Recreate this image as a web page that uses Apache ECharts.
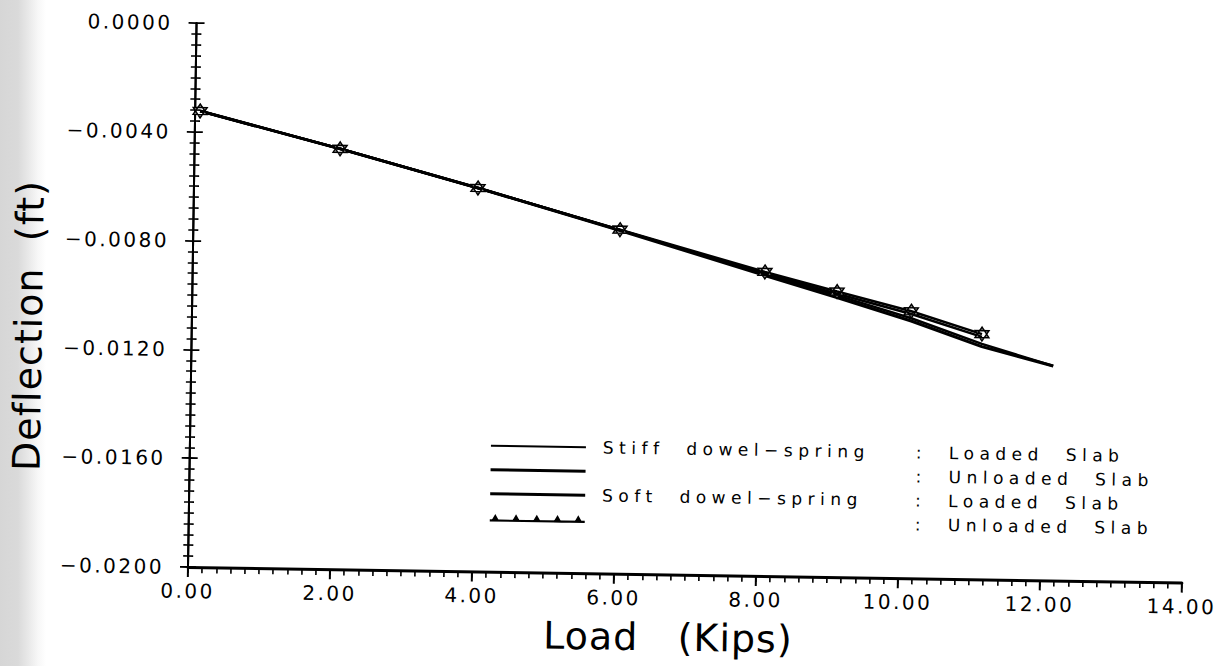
<!DOCTYPE html>
<html>
<head>
<meta charset="utf-8">
<script src="https://cdn.jsdelivr.net/npm/echarts@6/dist/echarts.min.js"></script>
<style>
  html, body { margin: 0; padding: 0; }
  body {
    width: 1215px; height: 666px; overflow: hidden; position: relative;
    background: linear-gradient(to right, #d6d6d6 0px, #dadada 18px, #e8e8e8 28px, #f7f7f7 38px, #ffffff 46px);
  }
  /* the plotted sheet sits slightly askew on the page */
  #chart {
    position: absolute; left: 0; top: 0; width: 1215px; height: 666px;
    transform-origin: 188px 567px; transform: rotate(0.9deg);
  }
</style>
</head>
<body>
<div id="chart"></div>
<script>
// Load steps (kips)
const loads = [0.07, 2.05, 4.00, 6.01, 8.06, 9.08, 10.13, 11.13, 12.14];

// Joint deflection (ft) for each dowel-spring case
const stiffLoaded   = [-0.00323, -0.00454, -0.00590, -0.00737, -0.00888, -0.00964, -0.01044, -0.01134, -0.01211];
const stiffUnloaded = [-0.00323, -0.00454, -0.00590, -0.00736, -0.00888, -0.00958, -0.01028, -0.01108, null];
const softLoaded    = [-0.00323, -0.00454, -0.00590, -0.00738, -0.00895, -0.00972, -0.01054, -0.01144, -0.01211];
const softUnloaded  = [-0.00323, -0.00454, -0.00590, -0.00735, -0.00882, -0.00950, -0.01018, -0.01098, null];

// Axis ranges
const loadMin = 0, loadMax = 14, loadStep = 2, loadMinorStep = 0.2;
const deflMin = -0.02, deflMax = 0, deflStep = 0.004;

const seriesNames = [
  'Stiff dowel-spring, loaded slab',
  'Stiff dowel-spring, unloaded slab',
  'Soft dowel-spring, loaded slab',
  'Soft dowel-spring, unloaded slab'
];
const legendSpring = ['Stiff  dowel\u2212spring', '', 'Soft  dowel\u2212spring', ''];
const legendSlab = [':  Loaded  Slab', ':  Unloaded  Slab', ':  Loaded  Slab', ':  Unloaded  Slab'];

const FONT = 'DejaVu Sans';

function pairs(ys) {
  return loads.map((x, i) => [x, ys[i]]).filter(p => p[1] != null);
}

const starPath = 'path://M0,-6L5.2,3L-5.2,3Z M0,6L5.2,-3L-5.2,-3Z';
const legendIcons = [
  'path://M0,0H95V2H0Z',
  'path://M0,0H95V3H0Z',
  'path://M0,0H95V3H0Z',
  'path://M0,6H87V8H0Z M1,8L5,1L9,8Z M20,8L24,1L28,8Z M39,8L43,1L47,8Z M58,8L62,1L66,8Z M77,8L81,1L85,8Z'
];

function yTickAxis(inside, showLabels) {
  return {
    type: 'value', min: deflMin, max: deflMax, interval: deflStep, position: 'left',
    axisLine: { show: true, onZero: false, lineStyle: { color: '#000', width: 2 } },
    axisTick: { show: true, inside: inside, length: 8, lineStyle: { color: '#000', width: 1.8 } },
    minorTick: { show: true, splitNumber: 10, length: 5, lineStyle: { color: '#000', width: 1.6 } },
    splitLine: { show: false },
    axisLabel: {
      show: showLabels, margin: 24, fontFamily: FONT, fontSize: 20, color: '#000',
      formatter: v => v.toFixed(4).replace('-', '\u2212')
    }
  };
}

const chart = echarts.init(document.getElementById('chart'), null, { renderer: 'svg' });

chart.setOption({
  animation: false,
  grid: { left: 188, right: 33, top: 23, bottom: 99 },
  xAxis: [
    {
      type: 'value', min: loadMin, max: loadMax, interval: loadStep, position: 'bottom',
      name: 'Load   (Kips)', nameLocation: 'middle', nameGap: 44,
      nameTextStyle: { fontFamily: FONT, fontSize: 38, color: '#000', padding: [0, 32, 0, 0] },
      axisLine: { show: true, onZero: false, lineStyle: { color: '#000', width: 3 } },
      axisTick: { show: true, inside: false, length: 10, lineStyle: { color: '#000', width: 2 } },
      splitLine: { show: false },
      axisLabel: {
        margin: 14, fontFamily: FONT, fontSize: 20, color: '#000',
        formatter: v => v.toFixed(2)
      }
    },
    {
      // fine tick scale along the load axis
      type: 'value', min: loadMin, max: loadMax, interval: loadMinorStep, position: 'bottom',
      axisLine: { show: false, onZero: false },
      axisTick: { show: true, inside: false, length: 6, lineStyle: { color: '#000', width: 1.6 } },
      splitLine: { show: false },
      axisLabel: { show: false }
    }
  ],
  yAxis: [yTickAxis(false, true), yTickAxis(true, false)],
  graphic: [{
    type: 'text', x: 25, y: 328, rotation: Math.PI / 2,
    style: {
      text: 'Deflection  (ft)', fontFamily: FONT, fontSize: 38, fill: '#000',
      align: 'center', verticalAlign: 'middle', textAlign: 'center', textVerticalAlign: 'middle'
    }
  }],
  legend: {
    orient: 'vertical', left: 489, top: 431, padding: 0,
    itemWidth: 95, itemHeight: 14, itemGap: 4, selectedMode: false,
    itemStyle: { color: '#000', borderWidth: 0 },
    data: seriesNames.map((n, i) => ({ name: n, icon: legendIcons[i] })),
    formatter: name => {
      const i = seriesNames.indexOf(name);
      return '{a|' + legendSpring[i] + '}{b|' + legendSlab[i] + '}';
    },
    textStyle: {
      fontFamily: FONT, fontSize: 17, color: '#000', lineHeight: 20,
      rich: {
        a: { width: 313, padding: [0, 0, 0, 12], fontFamily: FONT, fontSize: 17, color: '#000', lineHeight: 20 },
        b: { fontFamily: FONT, fontSize: 17, color: '#000', lineHeight: 20 }
      }
    }
  },
  series: [
    {
      name: seriesNames[0], type: 'line', data: pairs(stiffLoaded), showSymbol: false, symbol: 'none',
      lineStyle: { color: '#000', width: 2.5 }, itemStyle: { color: '#000' }, z: 2
    },
    {
      name: seriesNames[1], type: 'line', data: pairs(stiffUnloaded), showSymbol: false, symbol: 'none',
      lineStyle: { color: '#000', width: 2.5 }, itemStyle: { color: '#000' }, z: 2
    },
    {
      name: seriesNames[2], type: 'line', data: pairs(softLoaded), showSymbol: false, symbol: 'none',
      lineStyle: { color: '#000', width: 3 }, itemStyle: { color: '#000' }, z: 2
    },
    {
      name: seriesNames[3], type: 'line', data: pairs(softUnloaded),
      symbol: starPath, symbolSize: 14, showSymbol: true,
      lineStyle: { color: '#000', width: 2.5 },
      itemStyle: { color: '#8c8c8c', borderColor: '#000', borderWidth: 1.4 }, z: 3
    }
  ]
});

// The plotter lettering is widely spaced: open up the tracking of the drawn text.
const legendStrings = new Set(legendSpring.concat(legendSlab).filter(s => s));
function spaceLettering() {
  document.querySelectorAll('#chart text').forEach(t => {
    const s = t.textContent;
    let sp = '1px';
    if (legendStrings.has(s)) sp = '5.5px';
    else if (/^[\u2212\d.]+$/.test(s)) sp = '2.5px';
    t.style.letterSpacing = sp;
  });
}
spaceLettering();
chart.on('finished', spaceLettering);
</script>
</body>
</html>
